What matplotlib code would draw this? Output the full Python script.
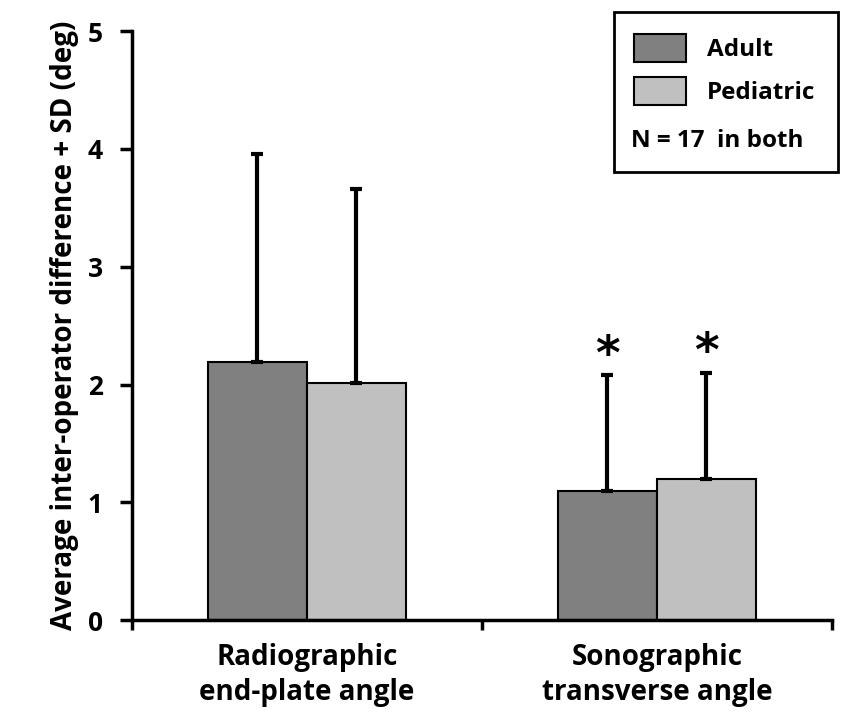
import numpy as np
import matplotlib
matplotlib.use("Agg")
from matplotlib import pyplot as plt
from matplotlib.patches import Rectangle, Patch

# data
categories = ["Radiographic\nend-plate angle", "Sonographic\ntransverse angle"]
adult_mean = [2.19, 1.10]
adult_sd = [1.77, 0.98]
pediatric_mean = [2.01, 1.20]
pediatric_sd = [1.65, 0.90]
significant = [False, True]

plt.rcParams['font.family'] = ['Open Sans', 'DejaVu Sans']
plt.rcParams['font.weight'] = 'bold'

fig = plt.figure(figsize=(8.41, 7.13), dpi=100)
ax = fig.add_axes([0.157, 0.130, 0.832, 0.8265])

x = np.arange(len(categories))
w = 0.283

err_kw = dict(ecolor='black', elinewidth=3, capsize=4, capthick=3)
ax.bar(x - w / 2, adult_mean, w, color='#808080', edgecolor='black', linewidth=1.5,
       yerr=[np.zeros(2), adult_sd], error_kw=err_kw, label='Adult')
ax.bar(x + w / 2, pediatric_mean, w, color='#c0c0c0', edgecolor='black', linewidth=1.5,
       yerr=[np.zeros(2), pediatric_sd], error_kw=err_kw, label='Pediatric')

# asterisks over the sonographic bars
for i in range(len(categories)):
    if significant[i]:
        ax.text(x[i] - w / 2, adult_mean[i] + adult_sd[i] + 0.16, '*', ha='center', va='center',
                fontsize=34, fontweight='bold', family='DejaVu Sans')
        ax.text(x[i] + w / 2, pediatric_mean[i] + pediatric_sd[i] + 0.16, '*', ha='center', va='center',
                fontsize=34, fontweight='bold', family='DejaVu Sans')

ax.set_xlim(-0.5, 1.5)
ax.set_ylim(0, 5)
ax.set_yticks(range(6))
ax.set_yticklabels([str(v) for v in range(6)], fontsize=19, fontweight='bold')
ax.set_xticks([-0.5, 0.5, 1.5])
ax.set_xticklabels([])
ax.tick_params(axis='y', direction='out', length=9, width=2.5, pad=12)
ax.tick_params(axis='x', direction='out', length=7, width=2.5)
for i, c in enumerate(categories):
    ax.text(x[i], -0.19, c, ha='center', va='top', fontsize=20, fontweight='bold',
            linespacing=1.3)

ax.spines['top'].set_visible(False)
ax.spines['right'].set_visible(False)
ax.spines['left'].set_linewidth(2.5)
ax.spines['bottom'].set_linewidth(2.5)
ax.set_ylabel("Average inter-operator difference + SD (deg)", fontsize=20, fontweight='bold',
              labelpad=6)

# legend box with note
fig.patches.append(Rectangle((614 / 841, 1 - 172 / 713), 224 / 841, 160 / 713,
                             transform=fig.transFigure, fill=False, edgecolor='black',
                             linewidth=2, zorder=5))
handles = [Patch(facecolor='#808080', edgecolor='black', linewidth=1.5),
           Patch(facecolor='#c0c0c0', edgecolor='black', linewidth=1.5)]
fig.legend(handles, ['Adult', 'Pediatric'], loc='upper left',
           bbox_to_anchor=(634 / 841, 1 - 34 / 713), frameon=False, fontsize=17.5,
           handlelength=2.15, handleheight=1.4, labelspacing=0.6, handletextpad=0.85,
           borderaxespad=0, borderpad=0)
fig.text(631 / 841, 1 - 141 / 713, "N = 17  in both", fontsize=17.5, fontweight='bold',
         ha='left', va='center')

fig.savefig("out.png", dpi=100)
